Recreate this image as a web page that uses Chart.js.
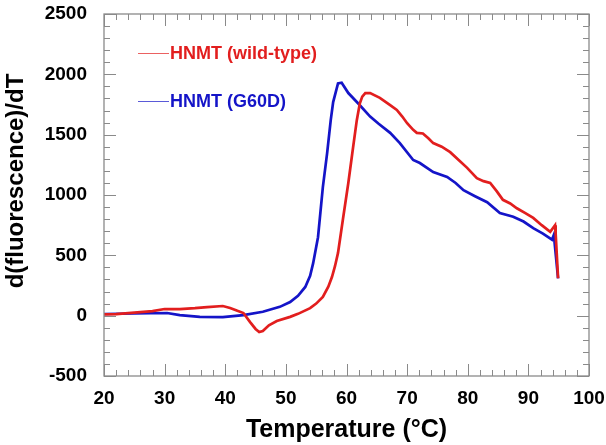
<!DOCTYPE html>
<html>
<head>
<meta charset="utf-8">
<script src="https://cdn.jsdelivr.net/npm/chart.js@4.4.1/dist/chart.umd.min.js"></script>
<style>
  html, body { margin: 0; padding: 0; background: #fff; }
  #wrap { width: 606px; height: 445px; position: relative; }
</style>
</head>
<body>
<div id="wrap"><canvas id="c" width="606" height="445"></canvas></div>
<script>
// ---- data ----
const wtLabel = "HNMT (wild-type)";
const wtTemp = [20, 22, 25, 28, 30, 32.5, 35, 37, 39.6, 40.8, 42, 43, 44.1, 45, 45.6, 46.2, 47.2, 48.5, 50.7, 52, 54, 55, 56.1, 57, 57.6, 58.1, 58.6, 59.4, 60.3, 61.1, 61.7, 62.2, 62.6, 63.1, 63.9, 65.5, 67.2, 68.3, 69.2, 70, 71, 71.6, 72.6, 73.5, 74.3, 75.7, 77.1, 78.5, 79.9, 81.5, 82.6, 83.7, 84.8, 85.8, 87, 88.1, 89.5, 90.8, 92.2, 93.6, 94.4, 94.5, 94.9];
const wtValues = [10, 12, 25, 38, 55, 55, 62, 70, 80, 64, 40, 22, -53, -110, -135, -127, -80, -44, -10, 15, 62, 100, 155, 240, 320, 410, 520, 795, 1100, 1400, 1620, 1760, 1815, 1845, 1845, 1805, 1745, 1705, 1650, 1595, 1540, 1515, 1510, 1470, 1430, 1400, 1355, 1290, 1225, 1140, 1115, 1100, 1030, 960, 930, 890, 850, 810, 750, 695, 750, 680, 310];

const mutLabel = "HNMT (G60D)";
const mutTemp = [20, 25, 30.4, 32.5, 35.8, 39.6, 43, 46.2, 49, 50.7, 52, 53.2, 54, 54.5, 55.3, 56.1, 56.8, 57.4, 57.8, 58.6, 59.2, 60.3, 61.9, 63.9, 65.3, 67.2, 68.8, 71, 72.1, 74.3, 76.6, 78, 79.3, 81.2, 83.2, 85.3, 87.5, 89.2, 90.8, 92.4, 93.9, 94.2, 94.9];
const mutValues = [14, 18, 22, 5, -10, -12, 5, 32, 73, 113, 165, 238, 330, 435, 650, 1065, 1345, 1620, 1770, 1925, 1930, 1845, 1760, 1650, 1590, 1515, 1430, 1290, 1265, 1190, 1150, 1100, 1040, 990, 940, 850, 820, 780, 725, 680, 630, 670, 310];

const xTicks = [20, 30, 40, 50, 60, 70, 80, 90, 100];
const yTicks = [-500, 0, 500, 1000, 1500, 2000, 2500];
const xTitle = "Temperature (\u00B0C)";
const yTitle = "d(fluorescence)/dT";

const RED = "rgb(226,30,30)";
const BLUE = "rgb(20,20,200)";
const FRAME = "#8a8a8a";
const FONT = "'Liberation Sans', Arial, sans-serif";

function pts(xs, ys) { return xs.map((x, i) => ({ x: x, y: ys[i] })); }

// ticks on all four sides (inside), frame, legend and y title
const framePlugin = {
  id: 'frame',
  afterDatasetsDraw(chart) {
    const { ctx, chartArea: a, scales: { x, y } } = chart;
    ctx.save();
    ctx.strokeStyle = FRAME;
    ctx.lineWidth = 1.3;
    ctx.strokeRect(a.left, a.top, a.right - a.left, a.bottom - a.top);
    ctx.lineWidth = 1;
    ctx.beginPath();
    for (let v = 20; v <= 100; v += 2) {
      const px = Math.round(x.getPixelForValue(v)) + 0.5;
      const len = (v % 10 === 0) ? 12 : 6;
      ctx.moveTo(px, a.bottom); ctx.lineTo(px, a.bottom - len);
      ctx.moveTo(px, a.top); ctx.lineTo(px, a.top + len);
    }
    for (let v = -500; v <= 2500; v += 100) {
      const py = Math.round(y.getPixelForValue(v)) + 0.5;
      const len = (v % 500 === 0) ? 12 : 6;
      ctx.moveTo(a.left, py); ctx.lineTo(a.left + len, py);
      ctx.moveTo(a.right, py); ctx.lineTo(a.right - len, py);
    }
    ctx.stroke();
    ctx.restore();
  },
  afterDraw(chart) {
    const { ctx } = chart;
    ctx.save();
    const items = chart.data.datasets.map(d => ({ label: d.label, color: d.borderColor }));
    const rows = [53, 101];
    items.forEach((it, i) => {
      const yy = rows[i];
      ctx.strokeStyle = it.color;
      ctx.globalAlpha = 0.7;
      ctx.lineWidth = 1;
      ctx.beginPath();
      ctx.moveTo(138, yy + 0.5); ctx.lineTo(169, yy + 0.5);
      ctx.stroke();
      ctx.globalAlpha = 1;
      ctx.fillStyle = it.color;
      ctx.font = "bold 18px " + FONT;
      ctx.textBaseline = 'middle';
      ctx.textAlign = 'left';
      ctx.fillText(it.label, 170, yy + 1);
    });
    ctx.fillStyle = '#000';
    ctx.font = "bold 24px " + FONT;
    ctx.translate(16, 181);
    ctx.rotate(-Math.PI / 2);
    ctx.textAlign = 'center';
    ctx.textBaseline = 'middle';
    ctx.fillText(yTitle, 0, 0);
    ctx.restore();
  }
};

new Chart(document.getElementById('c'), {
  type: 'line',
  data: {
    datasets: [
      { label: wtLabel, data: pts(wtTemp, wtValues), borderColor: RED, borderWidth: 2.7, pointRadius: 0, tension: 0, fill: false },
      { label: mutLabel, data: pts(mutTemp, mutValues), borderColor: BLUE, borderWidth: 2.7, pointRadius: 0, tension: 0, fill: false }
    ]
  },
  options: {
    responsive: false,
    animation: false,
    devicePixelRatio: 1,
    layout: { padding: { left: 0, right: 17, top: 14, bottom: 0 } },
    plugins: {
      legend: { display: false },
      tooltip: { enabled: false }
    },
    scales: {
      x: {
        type: 'linear', min: 20, max: 100,
        afterBuildTicks: s => { s.ticks = xTicks.map(v => ({ value: v })); },
        afterFit: s => { s.height = 69; s.paddingLeft = 0; s.paddingRight = 0; },
        grid: { display: false, drawTicks: false },
        border: { display: false },
        ticks: { color: '#000', font: { family: FONT, size: 19, weight: 'bold' }, padding: 11, maxRotation: 0, callback: v => String(v) },
        title: { display: true, text: xTitle, color: '#000', font: { family: FONT, size: 25, weight: 'bold' }, padding: { top: 2, bottom: 0 } }
      },
      y: {
        type: 'linear', min: -500, max: 2500,
        afterBuildTicks: s => { s.ticks = yTicks.map(v => ({ value: v })); },
        afterFit: s => { s.width = 104; s.paddingTop = 0; s.paddingBottom = 0; },
        grid: { display: false, drawTicks: false },
        border: { display: false },
        ticks: { color: '#000', font: { family: FONT, size: 19, weight: 'bold' }, padding: 17, callback: v => String(v) }
      }
    }
  },
  plugins: [framePlugin]
});
</script>
</body>
</html>
